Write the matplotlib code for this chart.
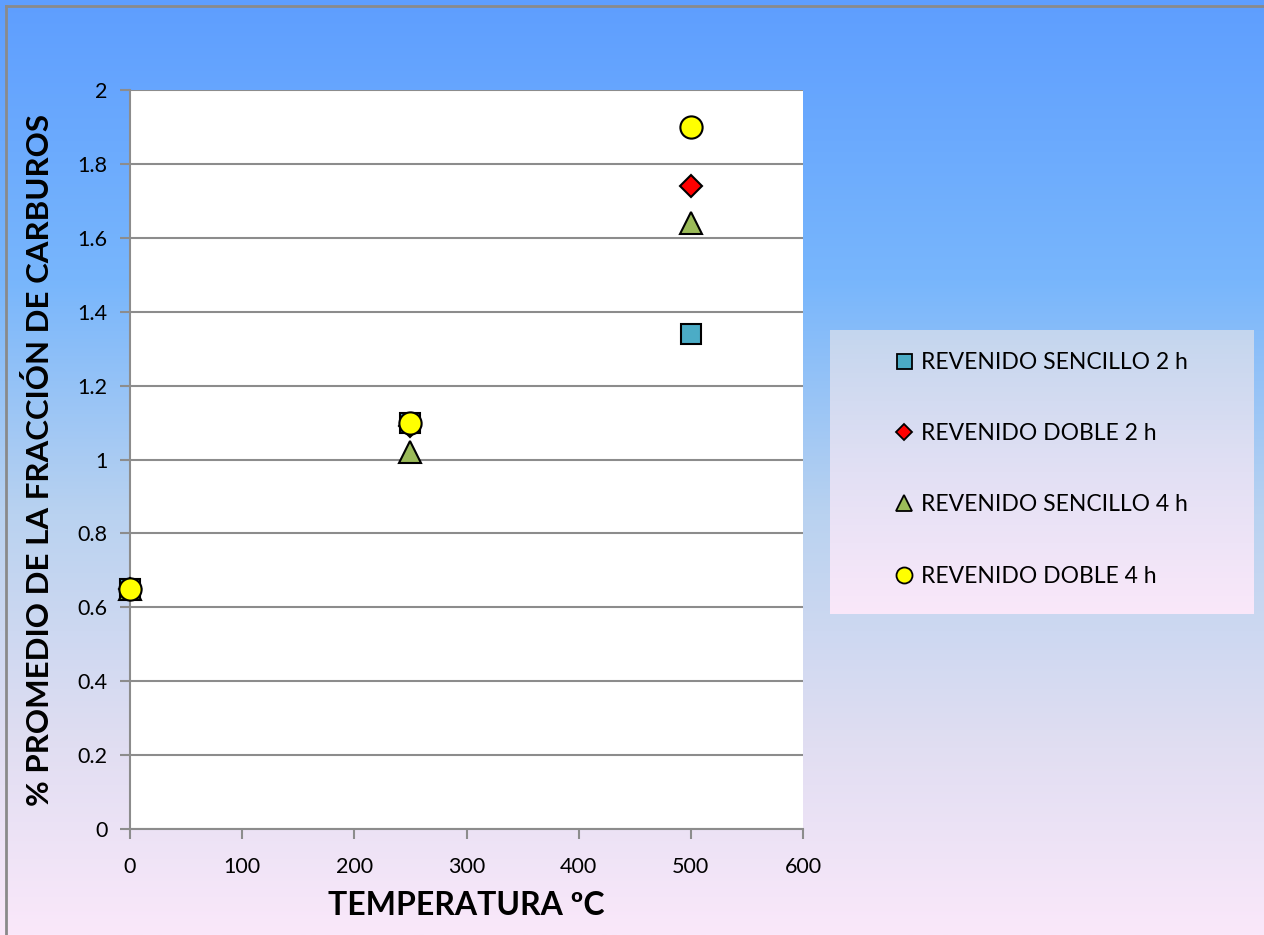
import matplotlib
matplotlib.use("Agg")
import matplotlib.pyplot as plt
import numpy as np
from matplotlib.lines import Line2D

# data
temperatures = [0, 250, 500]
sencillo_2h = [0.65, 1.10, 1.34]
doble_2h = [0.65, 1.09, 1.74]
sencillo_4h = [0.65, 1.02, 1.64]
doble_4h = [0.65, 1.10, 1.90]

series_labels = ['REVENIDO SENCILLO 2 h', 'REVENIDO DOBLE 2 h',
                 'REVENIDO SENCILLO 4 h', 'REVENIDO DOBLE 4 h']

plt.rcParams['font.family'] = ['Lato', 'DejaVu Sans']

W, H = 1264, 935
fig = plt.figure(figsize=(W / 100, H / 100), dpi=100)


def gradient(stops, n=400):
    pos = np.array([s[0] for s in stops])
    cols = np.array([s[1] for s in stops]) / 255.0
    t = np.linspace(0, 1, n)
    img = np.stack([np.interp(t, pos, cols[:, i]) for i in range(3)], axis=1)
    return img[:, None, :]


# figure background
bg = fig.add_axes([0, 0, 1, 1], zorder=-10)
bg.imshow(gradient([(0.0, (94, 158, 255)), (0.3, (120, 182, 252)),
                    (0.55, (185, 210, 240)), (0.8, (225, 222, 242)),
                    (1.0, (250, 232, 250))]),
          aspect='auto', extent=[0, 1, 0, 1], origin='upper')
bg.set_xlim(0, 1)
bg.set_ylim(0, 1)
bg.axis('off')
fig.add_artist(Line2D([6 / W, 6 / W], [0, 1 - 6 / H], color='#8a8a8a', lw=2))
fig.add_artist(Line2D([6 / W, 1], [1 - 6 / H, 1 - 6 / H], color='#8a8a8a', lw=2))

# main plot
ax = fig.add_axes([130 / W, (H - 829) / H, (803 - 130) / W, (829 - 90) / H])
ax.set_facecolor('white')
ax.set_xlim(0, 600)
ax.set_ylim(0, 2)
ax.set_xticks(range(0, 601, 100))
ax.set_yticks(np.arange(0, 2.01, 0.2))
ax.set_yticklabels(['0', '0.2', '0.4', '0.6', '0.8', '1', '1.2', '1.4', '1.6', '1.8', '2'])
ax.yaxis.grid(True, color='#8c8c8c', lw=1.5)
ax.set_axisbelow(True)
for s in ['top', 'right']:
    ax.spines[s].set_visible(False)
for s in ['left', 'bottom']:
    ax.spines[s].set_color('#8c8c8c')
    ax.spines[s].set_linewidth(1.5)
ax.tick_params(direction='out', length=7, width=1.5, color='#8c8c8c',
               labelsize=15.5, pad=9)
ax.tick_params(axis='x', pad=13)

styles = [
    dict(marker='s', color='#4BACC6', ms=15),
    dict(marker='D', color='#FF0000', ms=11),
    dict(marker='^', color='#9BBB59', ms=16),
    dict(marker='o', color='#FFFF00', ms=16),
]
handles = []
for vals, st, lab in zip([sencillo_2h, doble_2h, sencillo_4h, doble_4h], styles, series_labels):
    ln, = ax.plot(temperatures, vals, linestyle='none', marker=st['marker'],
                  markersize=st['ms'], markerfacecolor=st['color'],
                  markeredgecolor='black', markeredgewidth=1.5,
                  clip_on=False, zorder=5, label=lab)
    handles.append(Line2D([], [], linestyle='none', marker=st['marker'],
                          markersize=st['ms'] * 0.72, markerfacecolor=st['color'],
                          markeredgecolor='black', markeredgewidth=1.3))

ax.set_xlabel('TEMPERATURA ºC', fontsize=23, fontweight='bold', labelpad=10)
ax.set_ylabel('% PROMEDIO DE LA FRACCIÓN DE CARBUROS', fontsize=22.5,
              fontweight='bold', labelpad=17)

# legend box with its own gradient
lax = fig.add_axes([830 / W, (H - 614) / H, 423 / W, 284 / H])
lax.imshow(gradient([(0.0, (196, 214, 238)), (0.5, (226, 224, 244)),
                     (1.0, (250, 232, 250))]),
           aspect='auto', extent=[0, 1, 0, 1], origin='upper')
lax.set_xlim(0, 1)
lax.set_ylim(0, 1)
lax.axis('off')
lax.legend(handles, series_labels, loc='center', frameon=False, fontsize=16.5,
           labelspacing=2.2, handlelength=0.8, handletextpad=0.35,
           bbox_to_anchor=(0.5, 0.51))

fig.savefig('out.png', dpi=100)
